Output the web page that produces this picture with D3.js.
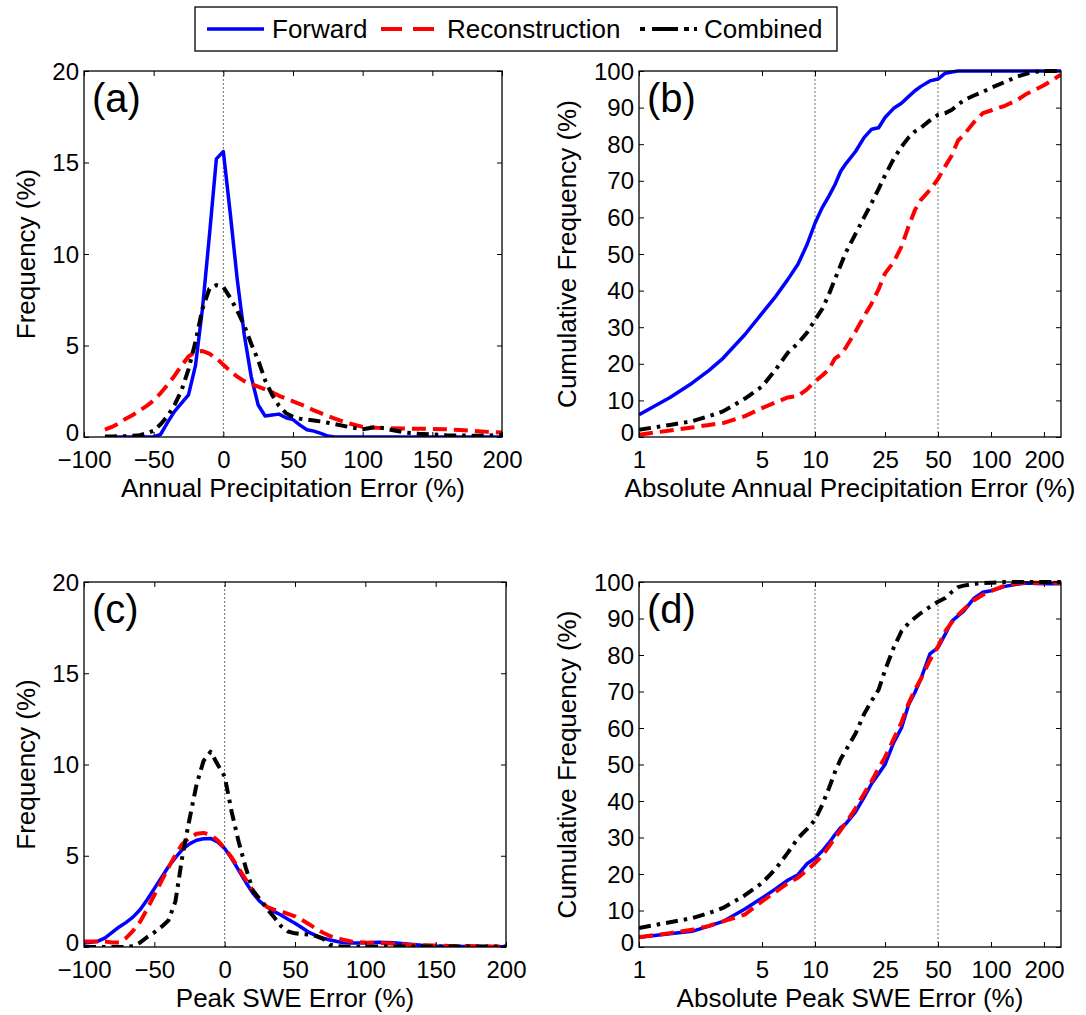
<!DOCTYPE html>
<html><head><meta charset="utf-8">
<script src="https://cdn.jsdelivr.net/npm/d3@7"></script>
<style>
body{margin:0;background:#fff}
svg{display:block}
text{font-family:"Liberation Sans",Arial,Helvetica,sans-serif;fill:#000}
</style>
</head><body>
<svg id="chart" width="1086" height="1015"></svg>
<script>
// ---------- DATA ----------
const seriesNames = ["Forward", "Reconstruction", "Combined"];

// Panel (a): Annual precipitation error frequency
const aX = [-85,-80,-75,-70,-65,-60,-55,-50,-45,-40,-35,-30,-25,-20,-15,-10,-5,0,5,10,15,20,25,30,35,40,45,50,55,60,65,70,75,80,90,100,110,120,130,140,150,160,170,180,190,200];
const aForward = [null,0,0,0,0,0,0,0,0.15,0.8,1.4,1.85,2.3,3.9,7.0,11.0,15.2,15.6,12.2,8.6,5.6,3.3,1.75,1.15,1.2,1.25,1.05,0.95,0.65,0.4,0.32,0.2,0.05,0,0,0,0,0,0,0,0,0,0,0,0,0];
const aRecon = [0.4,0.55,0.75,1.0,1.2,1.45,1.7,2.0,2.4,2.85,3.35,3.9,4.4,4.65,4.7,4.55,4.3,3.95,3.6,3.3,3.05,2.9,2.75,2.6,2.45,2.25,2.1,1.95,1.8,1.65,1.45,1.3,1.15,1.0,0.75,0.55,0.5,0.48,0.46,0.45,0.44,0.42,0.38,0.33,0.28,0.25];
const aCombined = [0.03,0.03,0.04,0.05,0.07,0.1,0.2,0.35,0.7,1.15,1.75,2.55,3.7,5.2,7.0,8.1,8.3,8.2,7.6,6.9,6.1,5.1,4.2,3.1,2.3,1.7,1.3,1.1,1.0,0.95,0.9,0.85,0.78,0.7,0.55,0.42,0.55,0.4,0.25,0.18,0.14,0.1,0.08,0.07,0.08,0.12];

// Panel (c): Peak SWE error frequency
const cX = [-100,-95,-90,-85,-80,-75,-70,-65,-60,-55,-50,-45,-40,-35,-30,-25,-20,-15,-10,-5,0,5,10,15,20,25,30,35,40,45,50,55,60,65,70,75,80,85,90,95,100,110,120,130,140,150,160,170,180,190,200];
const cForward = [0.22,0.26,0.32,0.5,0.8,1.1,1.35,1.65,2.05,2.6,3.2,3.8,4.4,4.9,5.35,5.65,5.85,5.93,5.95,5.75,5.4,4.85,4.2,3.55,2.95,2.5,2.2,1.95,1.75,1.52,1.3,1.05,0.8,0.62,0.48,0.38,0.3,0.23,0.22,0.22,0.23,0.26,0.23,0.16,0.1,0.06,0.04,0.03,0.03,0.02,0.02];
const cRecon = [0.3,0.3,0.3,0.3,0.25,0.25,0.5,0.9,1.4,2.1,2.85,3.6,4.35,5.05,5.65,6.0,6.2,6.25,6.15,5.85,5.4,4.9,4.3,3.7,3.1,2.6,2.2,2.05,1.95,1.82,1.68,1.48,1.25,1.0,0.78,0.6,0.48,0.38,0.3,0.26,0.24,0.22,0.18,0.13,0.1,0.08,0.06,0.05,0.04,0.03,0.03];
const cCombined = [0,0,0,0,0,0,0,0.05,0.25,0.55,0.8,1.1,1.45,2.5,5.0,7.0,8.9,10.2,10.7,10.0,9.35,7.4,5.75,4.35,3.1,2.6,2.1,1.65,1.15,0.85,0.75,0.7,0.68,0.6,0.45,0.12,0.04,0.02,0.02,0.02,0.02,0.03,0.03,0.03,0.03,0.03,0.03,0.03,0.03,0.03,0.03];

// Panels (b) and (d): cumulative frequency vs absolute error (log x)
const cumX = [1,1.5,2,2.5,3,4,5,6,7,8,9,10,11,12,13,14,15,17,19,21,23,25,28,31,34,37,40,45,50,55,60,65,70,80,90,100,120,140,160,180,200,250];
const bForward = [6.1,10.8,14.7,18.2,21.5,28.0,33.8,38.5,43.0,47.2,52.5,58.4,62.7,65.8,69.0,72.6,74.7,78.0,81.8,84.1,84.5,87.3,89.8,91.2,93.0,94.6,95.8,97.3,97.8,99.4,99.7,100,100,100,100,100,100,100,100,100,100,100];
const bRecon = [0.6,1.8,2.6,3.3,3.8,5.7,7.9,9.5,10.8,11.2,13.0,15.2,16.8,18.5,21.5,22.5,24.5,28.8,33.0,36.5,40.4,44.7,47.8,52.0,57.5,62.0,64.8,67.5,70.5,74.0,77.0,81.0,82.5,86.0,88.5,89.2,90.5,92.0,93.8,95.0,96.1,99.0];
const bCombined = [2.0,3.3,4.3,5.7,7.0,10.5,13.8,18.5,23.0,25.6,28.5,32.0,35.0,39.0,43.2,47.0,50.5,55.5,60.0,64.0,67.8,71.5,76.0,79.3,81.8,83.5,84.5,86.5,88.0,88.5,89.4,90.8,92.0,93.3,94.3,95.4,97.0,98.4,99.3,99.8,100,100];
const dForward = [2.7,3.6,4.3,5.7,7.0,10.4,13.4,16.0,18.3,19.8,22.8,24.3,26.3,28.5,30.8,32.7,33.8,37.0,41.0,44.8,47.5,50.0,56.0,60.0,66.3,69.8,73.5,80.3,82.0,85.7,89.3,90.7,92.0,95.5,97.2,97.6,98.8,99.4,99.7,99.6,99.5,99.5];
const dRecon = [2.7,3.8,4.7,5.8,7.0,8.9,12.5,15.2,17.5,19.0,21.0,23.0,25.0,27.5,30.0,32.0,34.0,38.0,42.0,45.5,49.0,52.0,57.0,61.5,66.7,70.5,73.5,78.6,82.3,86.5,89.0,91.0,92.5,95.0,96.5,97.5,99.0,99.6,99.8,99.8,99.8,99.8];
const dCombined = [5.2,6.8,7.9,9.3,10.7,14.2,17.5,21.5,25.8,29.8,32.3,34.8,39.0,43.5,48.0,51.5,54.0,58.5,63.8,67.5,70.5,75.8,82.0,86.5,88.7,90.2,91.5,93.2,94.6,95.6,97.3,98.6,99.0,99.5,99.7,99.8,100,100,100,100,100,100];

// Tick labels
const freqXTicks = [-100,-50,0,50,100,150,200];
const freqYTicks = [0,5,10,15,20];
const cumXTicks = [1,5,10,25,50,100,200];
const cumYTicks = [0,10,20,30,40,50,60,70,80,90,100];

// ---------- STYLE ----------
const styles = {
  Forward: {color:"#0000ff", width:3.5, dash:null},
  Reconstruction: {color:"#ff0000", width:4, dash:"14,7"},
  Combined: {color:"#000000", width:4, dash:"12,6,3.5,6"}
};

const svg = d3.select("#chart");

function panel(cfg){
  const g = svg.append("g");
  const x = cfg.log
    ? d3.scaleLog().domain(cfg.xd).range([cfg.l, cfg.r])
    : d3.scaleLinear().domain(cfg.xd).range([cfg.l, cfg.r]);
  const y = d3.scaleLinear().domain(cfg.yd).range([cfg.b, cfg.t]);

  // reference dotted lines
  cfg.refs.forEach(v => {
    g.append("line")
      .attr("x1", x(v)).attr("x2", x(v))
      .attr("y1", cfg.b).attr("y2", cfg.t)
      .attr("stroke", "#6e6e6e").attr("stroke-width", 1)
      .attr("stroke-dasharray", "2,2");
  });

  const clipId = "clip" + cfg.id;
  svg.append("clipPath").attr("id", clipId).append("rect")
    .attr("x", cfg.l).attr("y", cfg.t - 3).attr("width", cfg.r - cfg.l).attr("height", cfg.b - cfg.t + 3);

  const line = d3.line()
    .defined(d => d[1] !== null)
    .x(d => x(d[0])).y(d => y(d[1]));

  cfg.series.forEach((vals, i) => {
    const st = styles[seriesNames[i]];
    const pts = cfg.xs.map((xv, j) => [xv, vals[j]]);
    g.append("path")
      .attr("d", line(pts))
      .attr("fill", "none")
      .attr("stroke", st.color)
      .attr("stroke-width", st.width)
      .attr("stroke-dasharray", st.dash)
      .attr("stroke-linejoin", "round")
      .attr("clip-path", `url(#${clipId})`);
  });

  const fmt = cfg.log ? (d => String(d)) : d3.format("d");

  const bottom = g.append("g").attr("transform", `translate(0,${cfg.b})`)
    .call(d3.axisBottom(x).tickValues(cfg.xt).tickFormat(fmt).tickSize(-5).tickPadding(14));
  const top = g.append("g").attr("transform", `translate(0,${cfg.t})`)
    .call(d3.axisTop(x).tickValues(cfg.xt).tickFormat("").tickSize(-5));
  const left = g.append("g").attr("transform", `translate(${cfg.l},0)`)
    .call(d3.axisLeft(y).tickValues(cfg.yt).tickFormat(d3.format("d")).tickSize(-5).tickPadding(5));
  const right = g.append("g").attr("transform", `translate(${cfg.r},0)`)
    .call(d3.axisRight(y).tickValues(cfg.yt).tickFormat("").tickSize(-5));

  [bottom, top, left, right].forEach(a => {
    a.select(".domain").remove();
    a.selectAll(".tick line").attr("stroke", "#000").attr("stroke-width", 1);
    a.selectAll(".tick text").attr("font-size", 24).attr("fill", "#000")
      .style("font-family", '"Liberation Sans", Arial, sans-serif');
  });
  left.selectAll(".tick text").attr("dy", d => d === 0 ? "0.16em" : "0.34em");

  // frame
  g.append("rect")
    .attr("x", cfg.l).attr("y", cfg.t)
    .attr("width", cfg.r - cfg.l).attr("height", cfg.b - cfg.t)
    .attr("fill", "none").attr("stroke", "#000").attr("stroke-width", 1.3);

  // panel label
  g.append("text").attr("x", cfg.l + 8).attr("y", cfg.t + 41)
    .attr("font-size", 40).text(cfg.label);

  // axis titles
  g.append("text")
    .attr("x", (cfg.l + cfg.r) / 2).attr("y", cfg.b + cfg.xtOff)
    .attr("text-anchor", "middle").attr("font-size", 26).text(cfg.xlabel);
  g.append("text")
    .attr("transform", `translate(${cfg.ylx},${(cfg.t + cfg.b) / 2}) rotate(-90)`)
    .attr("text-anchor", "middle").attr("font-size", 26).text(cfg.ylabel);
}

panel({id:"a", l:84, r:502, t:71, b:437, xd:[-100,200], yd:[0,20], log:false,
  xs:aX, series:[aForward, aRecon, aCombined], refs:[0], xt:freqXTicks, yt:freqYTicks,
  label:"(a)", xlabel:"Annual Precipitation Error (%)", ylabel:"Frequency (%)", ylx:35, xtOff:60});
panel({id:"b", l:639, r:1061, t:71, b:437, xd:[1,250], yd:[0,100], log:true,
  xs:cumX, series:[bForward, bRecon, bCombined], refs:[10,50], xt:cumXTicks, yt:cumYTicks,
  label:"(b)", xlabel:"Absolute Annual Precipitation Error (%)", ylabel:"Cumulative Frequency (%)", ylx:576, xtOff:60});
panel({id:"c", l:84, r:506, t:582, b:947, xd:[-100,200], yd:[0,20], log:false,
  xs:cX, series:[cForward, cRecon, cCombined], refs:[0], xt:freqXTicks, yt:freqYTicks,
  label:"(c)", xlabel:"Peak SWE Error (%)", ylabel:"Frequency (%)", ylx:35, xtOff:60});
panel({id:"d", l:639, r:1061, t:582, b:947, xd:[1,250], yd:[0,100], log:true,
  xs:cumX, series:[dForward, dRecon, dCombined], refs:[10,50], xt:cumXTicks, yt:cumYTicks,
  label:"(d)", xlabel:"Absolute Peak SWE Error (%)", ylabel:"Cumulative Frequency (%)", ylx:576, xtOff:60});

// ---------- LEGEND ----------
const leg = svg.append("g");
leg.append("rect").attr("x", 195).attr("y", 7).attr("width", 642).attr("height", 44)
  .attr("fill", "#fff").attr("stroke", "#000").attr("stroke-width", 1.3);
const legItems = [
  {name:"Forward", x1:207, x2:264, tx:272, dash:null},
  {name:"Reconstruction", x1:381, x2:436, tx:447, dash:"21,11"},
  {name:"Combined", x1:640, x2:697, tx:704, dash:"5,7,26,6,5,5,5,50"}
];
legItems.forEach(it => {
  const st = styles[it.name];
  leg.append("line").attr("x1", it.x1).attr("x2", it.x2).attr("y1", 29).attr("y2", 29)
    .attr("stroke", st.color).attr("stroke-width", st.width).attr("stroke-dasharray", it.dash);
  leg.append("text").attr("x", it.tx).attr("y", 38).attr("font-size", 26).text(it.name);
});
</script>
</body></html>
